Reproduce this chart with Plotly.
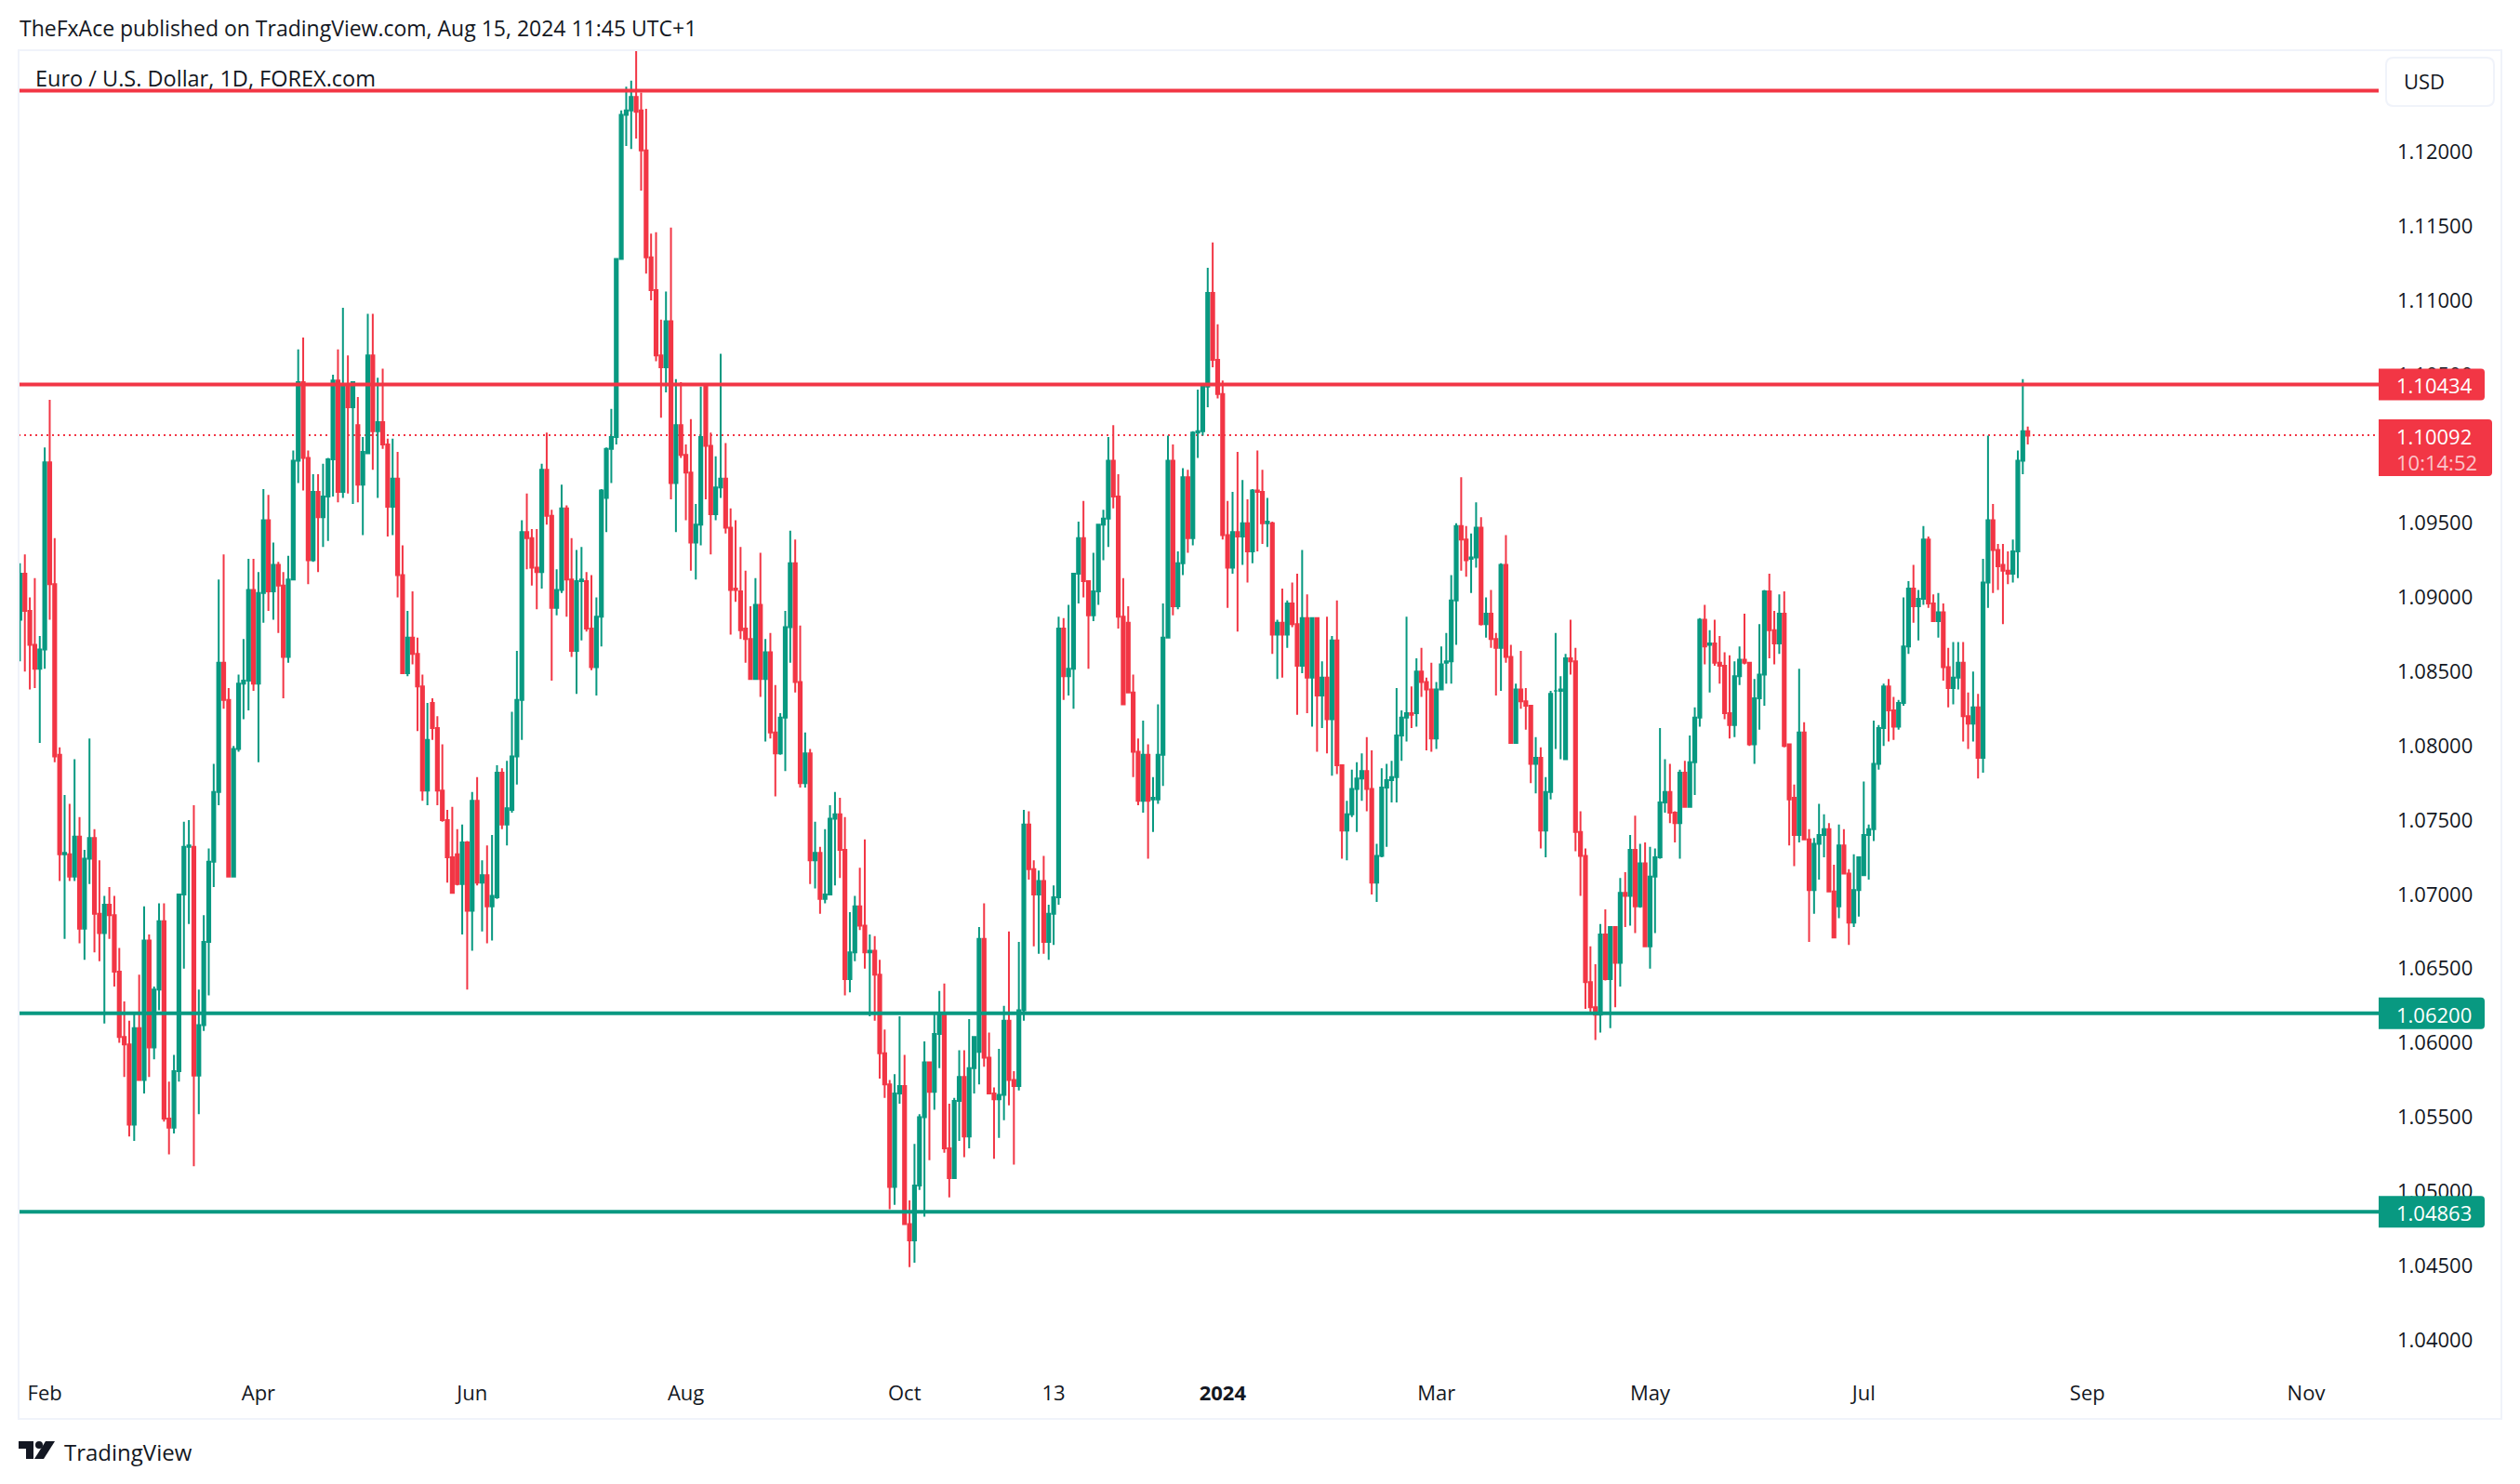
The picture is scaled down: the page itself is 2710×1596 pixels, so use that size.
"""EUR/USD daily candles, published TradingView snapshot."""
import plotly.graph_objects as go

# all prices in pips above 1.0000
opens_pips = [
    885,916,891,868,852,865,991,909,794,727,727,712,739,677,724,738,687,674,693,686,
    648,604,599,545,610,575,669,597,636,682,549,543,581,700,732,732,578,612,668,722,
    769,856,831,712,798,842,844,905,842,903,952,904,922,908,860,912,992,1045,994,925,
    971,954,968,993,1046,971,1042,1028,1016,976,997,1063,1012,1018,1003,961,980,915,849,873,
    862,840,770,829,812,770,750,725,727,707,735,689,763,708,713,692,698,782,747,757,
    793,831,944,940,920,917,986,955,893,905,960,912,864,911,911,879,853,887,967,1000,
    1008,1128,1225,1228,1237,1228,1201,1129,1107,1063,1055,1086,977,1016,996,984,937,949,1042,1002,
    956,974,980,947,906,904,879,872,845,895,845,863,809,795,819,880,923,843,775,795,
    723,728,697,700,751,754,730,643,661,692,679,661,662,646,593,572,503,566,571,478,
    467,504,550,587,567,606,620,529,509,561,577,537,583,594,670,590,566,562,565,615,
    575,571,622,747,717,700,709,668,687,698,879,847,852,916,940,911,888,904,949,953,
    992,968,887,883,836,796,763,794,764,764,794,873,992,894,923,981,940,1011,1012,1042,
    1105,1060,1037,942,920,944,941,950,931,972,971,950,950,875,883,875,896,882,854,886,
    846,886,834,846,818,871,787,743,754,771,778,783,771,708,726,772,777,779,807,819,
    822,822,850,843,838,805,838,856,857,898,948,939,926,927,947,882,889,872,866,922,
    860,802,838,830,827,788,792,743,769,837,837,791,859,857,742,726,641,624,619,673,
    643,678,654,701,699,730,692,721,665,712,725,762,769,755,748,782,759,789,819,885,
    868,869,856,854,822,814,847,858,856,801,832,848,904,878,869,889,801,765,740,809,
    737,703,734,740,744,702,692,733,714,681,703,713,740,744,788,812,840,824,813,829,
    867,906,894,899,939,896,884,890,853,839,846,856,820,815,826,792,910,952,932,922,
    918,916,931,992,1012,
]
highs_pips = [
    923,929,900,913,874,1001,1033,940,799,767,761,791,752,730,805,744,723,699,705,699,
    664,628,615,620,646,692,673,638,694,694,574,592,700,749,750,760,636,686,731,788,
    912,929,839,800,848,872,926,926,917,973,969,937,924,917,928,999,1067,1075,999,983,
    983,990,994,1050,1067,1095,1063,1045,1035,1008,1091,1091,1048,1054,1007,1007,998,935,891,904,
    873,848,829,832,820,801,757,759,744,747,736,769,779,723,733,740,787,785,790,823,
    864,952,970,946,946,990,1011,959,919,976,962,940,932,934,917,915,900,973,1001,1027,
    1128,1228,1244,1248,1268,1240,1229,1145,1146,1087,1106,1149,1047,1045,1003,1020,963,1042,1043,1011,
    995,1064,1004,960,952,934,918,894,913,930,872,876,841,822,891,945,939,881,809,798,
    749,732,744,760,769,765,752,688,699,718,737,673,672,656,609,575,579,618,592,494,
    532,552,601,587,620,635,640,559,563,595,595,616,604,678,694,607,570,596,625,675,
    581,668,757,756,723,716,726,693,706,887,886,895,916,951,965,911,930,949,959,1008,
    1016,983,913,894,848,805,817,801,779,828,896,1009,1003,931,987,986,1012,1040,1044,1122,
    1139,1084,1046,965,971,998,979,966,973,999,986,967,951,885,906,898,910,916,932,902,
    886,886,857,887,874,898,787,763,784,789,795,806,797,734,785,788,790,839,824,887,
    840,859,866,846,856,843,867,876,915,950,981,948,943,964,954,900,905,876,923,942,
    868,842,864,839,827,806,799,779,837,876,847,862,885,866,756,731,665,653,680,690,
    678,678,711,715,740,753,734,735,732,731,812,791,788,756,784,790,807,826,886,895,
    878,885,874,863,861,857,867,889,856,845,882,905,916,891,902,904,801,774,852,816,
    744,738,761,754,748,720,747,744,717,727,725,776,747,817,814,842,845,833,831,900,
    911,922,905,948,941,902,903,896,866,870,870,870,836,850,835,926,1009,963,936,936,
    931,939,999,1047,1015,
]
lows_pips = [
    857,850,838,839,802,852,885,789,709,670,709,709,667,656,707,661,655,613,670,638,
    600,577,537,534,575,566,577,589,622,547,525,539,574,650,680,517,552,608,632,705,
    760,825,712,712,796,818,824,837,789,883,891,885,876,832,856,912,977,972,909,924,
    917,934,938,968,964,967,970,963,964,942,997,986,967,1000,941,942,900,849,847,855,
    810,763,760,804,760,749,708,701,706,673,636,662,706,675,667,669,697,744,733,755,
    774,804,919,908,892,906,949,844,888,903,887,860,835,871,877,851,834,867,944,977,
    1003,1128,1204,1202,1209,1174,1118,1100,1059,1021,1038,966,944,994,952,918,912,935,966,929,
    952,967,943,875,897,872,856,845,845,833,803,805,766,794,783,856,836,772,772,707,
    704,687,694,700,706,711,632,634,655,676,650,618,615,576,563,488,491,559,478,449,
    452,501,483,521,555,583,526,496,509,534,523,529,566,572,584,566,522,536,548,558,
    518,568,615,710,665,660,660,656,666,693,831,834,825,896,900,852,884,895,925,934,
    960,879,828,836,779,760,755,724,742,761,773,873,888,892,915,930,935,994,1009,1028,
    1055,1034,939,893,916,877,922,910,923,931,936,934,862,845,846,866,880,821,849,822,
    813,796,812,795,780,781,724,723,752,742,763,756,700,695,725,732,762,762,790,803,
    812,813,833,797,796,798,838,842,842,868,918,914,903,920,881,873,866,834,837,856,
    802,802,825,811,775,768,731,725,764,798,791,791,848,729,699,623,621,602,607,642,
    610,624,638,678,679,674,691,665,650,674,724,755,748,735,724,759,759,767,813,855,
    836,854,842,818,805,806,841,855,800,788,811,827,859,855,862,799,733,719,735,737,
    668,687,710,725,702,671,684,714,666,678,685,713,710,736,784,800,803,804,811,827,
    862,883,871,895,893,884,873,844,826,828,838,803,798,803,778,782,893,903,905,882,
    909,910,913,983,1003,
]
closes_pips = [
    916,891,868,852,865,991,909,793,727,728,712,739,677,724,738,687,674,693,686,648,
    604,599,545,610,575,669,597,636,682,549,543,581,700,732,733,578,612,668,722,769,
    856,831,712,798,842,844,905,842,903,952,904,922,908,860,912,992,1045,994,925,971,
    954,968,993,1046,971,1042,1028,1045,976,998,1063,1012,1018,1003,961,980,915,849,873,862,
    840,770,804,812,770,750,725,701,707,735,689,763,708,713,692,699,782,747,758,793,
    831,944,940,920,917,986,955,893,905,960,912,864,911,912,879,853,887,972,1000,1008,
    1128,1225,1228,1237,1227,1201,1129,1107,1063,1055,1086,977,1016,996,984,937,949,1008,1002,956,
    974,980,947,905,905,878,872,845,895,845,863,809,795,819,880,923,843,775,795,723,
    728,697,700,751,754,730,643,661,692,679,661,662,646,593,572,503,566,571,478,467,
    504,550,587,567,606,620,529,509,561,577,537,583,604,670,590,566,562,565,615,575,
    571,622,747,717,700,709,668,687,698,879,847,852,916,940,911,888,904,949,953,992,
    968,887,828,836,796,763,794,763,765,794,873,992,894,923,981,940,1011,1012,1042,1105,
    1060,1037,942,920,944,941,950,931,972,971,950,951,875,883,875,896,882,854,886,846,
    886,834,846,818,871,787,743,754,771,778,783,771,708,726,772,777,779,807,819,822,
    821,850,843,838,805,838,855,857,898,948,939,925,927,947,882,889,872,866,922,860,
    802,838,830,827,788,792,743,769,835,837,838,859,857,742,726,641,624,619,673,643,
    678,654,701,699,730,692,721,665,712,725,762,769,755,748,782,759,789,819,885,867,
    869,856,854,822,814,847,858,856,801,832,848,904,878,869,889,800,764,740,809,737,
    703,734,740,744,702,671,733,714,681,703,725,740,744,788,812,840,824,813,829,867,
    906,894,899,939,896,884,890,853,839,846,856,820,815,826,792,910,952,932,921,918,
    916,931,992,1012,1009,
]
assert len(opens_pips) == len(highs_pips) == len(lows_pips) == len(closes_pips)

time_ticks = [5, 48, 91, 134, 178, 208, 242, 285, 328, 371, 416, 460]
time_labels = ["Feb", "Apr", "Jun", "Aug", "Oct", "13", "<b>2024</b>", "Mar", "May", "Jul", "Sep", "Nov"]
price_ticks = [1.04, 1.045, 1.05, 1.055, 1.06, 1.065, 1.07, 1.075, 1.08, 1.085, 1.09,
               1.095, 1.10, 1.105, 1.11, 1.115, 1.12]

resistance_levels = [1.12412, 1.10434]
support_levels = [1.06200, 1.04863]
last_price = 1.10092
countdown = "10:14:52"

UP = "#089981"
DOWN = "#F23645"
INK = "#131722"
FRAME = "#F0F3FA"
FONT = "Open Sans"

# plot box in page pixels
LEFT, RIGHT, TOP, BOTTOM = 20, 2558, 54, 1480


def to_price(pips):
    return [1 + p / 10000 for p in pips]


def pixel_path(points):
    # page pixels -> path relative to the lower left corner of the plot
    return "M " + " L ".join(f"{x - LEFT} {BOTTOM - y}" for x, y in points) + " Z"


def page_shape(path, **kwargs):
    return dict(type="path", path=path, xref="paper", yref="paper",
                xsizemode="pixel", ysizemode="pixel", xanchor=0, yanchor=0,
                layer="above", **kwargs)


def rounded(x0, y0, x1, y1, r):
    return (f"M {x0 - LEFT + r} {BOTTOM - y0} L {x1 - LEFT - r} {BOTTOM - y0} "
            f"Q {x1 - LEFT} {BOTTOM - y0} {x1 - LEFT} {BOTTOM - y0 - r} "
            f"L {x1 - LEFT} {BOTTOM - y1 + r} Q {x1 - LEFT} {BOTTOM - y1} {x1 - LEFT - r} {BOTTOM - y1} "
            f"L {x0 - LEFT + r} {BOTTOM - y1} Q {x0 - LEFT} {BOTTOM - y1} {x0 - LEFT} {BOTTOM - y1 + r} "
            f"L {x0 - LEFT} {BOTTOM - y0 - r} Q {x0 - LEFT} {BOTTOM - y0} {x0 - LEFT + r} {BOTTOM - y0} Z")


def badge(price, color, width, up, down):
    # flat on the left where the level line runs in, rounded on the right
    r = 4
    path = (f"M 0 {up} L {width - r} {up} Q {width} {up} {width} {up - r} "
            f"L {width} {-down + r} Q {width} {-down} {width - r} {-down} L 0 {-down} Z")
    return dict(type="path", path=path, xref="paper", yref="y", xsizemode="pixel",
                ysizemode="pixel", xanchor=1, yanchor=price, fillcolor=color,
                line_width=0, layer="above")


def page_text(x, y, text, size, color=INK, **font):
    return dict(text=text, xref="paper", yref="paper", x=0, y=0, xanchor="left",
                yanchor="middle", xshift=x - LEFT, yshift=BOTTOM - y, showarrow=False,
                font=dict(family=FONT, size=size, color=color, **font))


def badge_text(price, text, color="#ffffff", yshift=-1):
    return dict(text=text, xref="paper", yref="y", x=1, y=price, xanchor="left",
                yanchor="middle", xshift=17, yshift=yshift, showarrow=False,
                font=dict(family=FONT, size=22, color=color, weight=500))


fig = go.Figure(
    go.Candlestick(
        x=list(range(len(closes_pips))),
        open=to_price(opens_pips),
        high=to_price(highs_pips),
        low=to_price(lows_pips),
        close=to_price(closes_pips),
        increasing=dict(line=dict(color=UP, width=2), fillcolor=UP),
        decreasing=dict(line=dict(color=DOWN, width=2), fillcolor=DOWN),
        whiskerwidth=0,
        hoverinfo="skip",
    )
)

shapes = [
    dict(type="line", xref="paper", x0=0, x1=1, y0=last_price, y1=last_price,
         line=dict(color=DOWN, width=2, dash="2px,4px"), layer="below"),
]
for level in resistance_levels:
    shapes.append(dict(type="line", xref="paper", x0=0, x1=1, y0=level, y1=level,
                       line=dict(color=DOWN, width=4), layer="above"))
for level in support_levels:
    shapes.append(dict(type="line", xref="paper", x0=0, x1=1, y0=level, y1=level,
                       line=dict(color=UP, width=4), layer="above"))

shapes += [
    badge(resistance_levels[1], DOWN, 114, 17, 17),
    badge(last_price, DOWN, 122, 17, 44),
    badge(support_levels[0], UP, 114, 17, 17),
    badge(support_levels[1], UP, 114, 17, 17),
    # outer frame and the currency button
    page_shape(pixel_path([(20, 54), (2690, 54), (2690, 1526), (20, 1526)]),
               line=dict(color=FRAME, width=2)),
    page_shape(rounded(2566, 62, 2682, 114, 8), line=dict(color=FRAME, width=2),
               fillcolor="#ffffff"),
    # TradingView mark
    page_shape(pixel_path([(20, 1550), (36, 1550), (36, 1569), (28, 1569), (28, 1558), (20, 1558)]),
               fillcolor=INK, line_width=0),
    page_shape(rounded(38, 1550, 46, 1558, 4), fillcolor=INK, line_width=0),
    page_shape(pixel_path([(49, 1550), (59, 1550), (47, 1569), (37, 1569)]),
               fillcolor=INK, line_width=0),
]

annotations = [
    page_text(19, 30, "TheFxAce published on TradingView.com, Aug 15, 2024 11:45 UTC+1", 23),
    page_text(36, 84, "Euro / U.S. Dollar, 1D, FOREX.com", 23.5),
    page_text(67, 1561, "TradingView", 24),
    page_text(2583, 87, "USD", 22),
    badge_text(resistance_levels[1], f"{resistance_levels[1]:.5f}"),
    badge_text(last_price, f"{last_price:.5f}"),
    badge_text(last_price, countdown, color="#FBC5CB", yshift=-29),
    badge_text(support_levels[0], f"{support_levels[0]:.5f}"),
    badge_text(support_levels[1], f"{support_levels[1]:.5f}"),
]

fig.update_layout(
    width=2710,
    height=1596,
    margin=dict(l=LEFT, r=2710 - RIGHT, t=TOP, b=1596 - BOTTOM, autoexpand=False),
    paper_bgcolor="#ffffff",
    plot_bgcolor="#ffffff",
    showlegend=False,
    boxgap=0.15,
    font=dict(family=FONT, size=22, color=INK),
    shapes=shapes,
    annotations=annotations,
    xaxis=dict(
        range=[-0.26, 474.6],
        rangeslider=dict(visible=False),
        showgrid=False,
        zeroline=False,
        showline=False,
        ticks="",
        tickmode="array",
        tickvals=time_ticks,
        ticktext=time_labels,
        ticklabelstandoff=3,
        tickfont=dict(family=FONT, size=22, color=INK),
    ),
    yaxis=dict(
        side="right",
        range=[1.03756, 1.12685],
        showgrid=False,
        zeroline=False,
        showline=False,
        ticks="",
        tickmode="array",
        tickvals=price_ticks,
        ticktext=[f"{p:.5f}" for p in price_ticks],
        ticklabelstandoff=19,
        tickfont=dict(family=FONT, size=22, color=INK),
    ),
)

fig.write_html("out.html", config={"displayModeBar": False},
               post_script="document.body.style.margin = '0';")
